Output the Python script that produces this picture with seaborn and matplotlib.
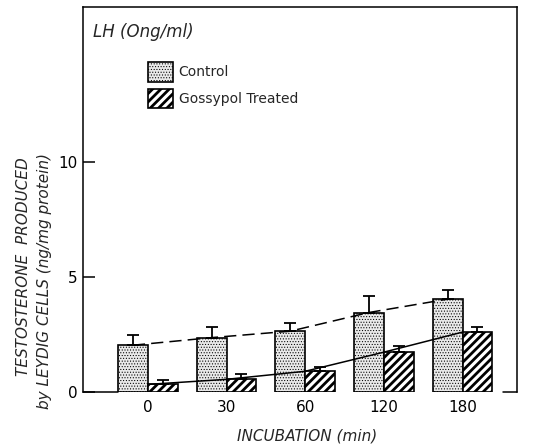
import matplotlib
matplotlib.use("Agg")
import matplotlib.pyplot as plt
import matplotlib.patches as mpatches
import numpy as np
import pandas as pd
import seaborn as sns

# Incubation times and testosterone output (ng/mg protein), mean and upper SE
times = ["0", "30", "60", "120", "180"]
control = [2.03, 2.36, 2.64, 3.45, 4.03]
control_err = [0.44, 0.44, 0.34, 0.70, 0.39]
gossypol = [0.33, 0.55, 0.90, 1.73, 2.60]
gossypol_err = [0.17, 0.22, 0.18, 0.26, 0.21]
groups = ["Control", "Gossypol Treated"]

sns.set_theme(style="white")
plt.rcParams["font.family"] = ["DejaVu Sans"]
plt.rcParams["hatch.linewidth"] = 2.0

CTRL_FACE = "#e9e9e9"
DOTS, STRIPES = "......", "////"
DOT_LW, STRIPE_LW = 0.45, 2.0

df = pd.DataFrame({
    "time": times * 2,
    "value": control + gossypol,
    "group": [groups[0]] * len(times) + [groups[1]] * len(times),
})

fig = plt.figure(figsize=(5.35, 4.47), dpi=100)
ax = fig.add_axes([0.155, 0.123, 0.811, 0.861])

sns.barplot(data=df, x="time", y="value", hue="group", order=times,
            hue_order=groups, palette={groups[0]: CTRL_FACE, groups[1]: "white"},
            width=0.76, gap=0, errorbar=None, edgecolor="black",
            linewidth=1.2, legend=False, ax=ax, zorder=2)


def style_patch(p, hatch, hlw):
    p.set_hatch(hatch)
    p.set_edgecolor("black")
    if hasattr(p, "set_hatch_linewidth"):
        p.set_hatch_linewidth(hlw)


for p in ax.containers[0]:
    style_patch(p, DOTS, DOT_LW)
for p in ax.containers[1]:
    style_patch(p, STRIPES, STRIPE_LW)

ax.set_xlim(-0.825, 4.69)
ax.set_ylim(0, 16.7)

# Upper error bars and trend lines through the bar tops
ctrl_x = [p.get_x() + p.get_width() / 2 for p in ax.containers[0]]
goss_x = [p.get_x() + p.get_width() / 2 for p in ax.containers[1]]
ax.errorbar(ctrl_x, control, yerr=[np.zeros(len(control)), control_err],
            fmt="none", ecolor="black", elinewidth=1.3, capsize=4.5,
            capthick=1.3, zorder=3)
ax.errorbar(goss_x, gossypol, yerr=[np.zeros(len(gossypol)), gossypol_err],
            fmt="none", ecolor="black", elinewidth=1.3, capsize=4.5,
            capthick=1.3, zorder=3)

centers = np.arange(len(times))
ax.plot(ctrl_x, control, color="black", lw=1.1, ls=(0, (8, 4)), zorder=4)
ax.plot(centers, gossypol, color="black", lw=1.1, ls="-", zorder=4)

# Axes frame: broken baseline at the left and right ends only
for s in ["left", "top", "right"]:
    ax.spines[s].set_linewidth(1.1)
    ax.spines[s].set_color("black")
ax.spines["bottom"].set_visible(False)
first_left = ax.containers[0][0].get_x()
last_right = ax.containers[1][-1].get_x() + ax.containers[1][-1].get_width()
xl = ax.get_xlim()
ax.plot([xl[0], first_left], [0, 0], color="black", lw=1.1, clip_on=False)
ax.plot([last_right + 0.14, xl[1]], [0, 0], color="black", lw=1.1, clip_on=False)

ax.set_yticks([0, 5, 10])
ax.set_yticklabels(["0", "5", "10"])
ax.tick_params(axis="y", direction="in", length=8.5, width=1.1, labelsize=11,
               pad=4, left=True, colors="black")
ax.tick_params(axis="x", length=0, labelsize=11, pad=6, colors="black")
ax.set_xlabel("")
ax.set_ylabel("")

ax.text(0.023, 0.935, "LH (Ong/ml)", transform=ax.transAxes, fontsize=12,
        style="italic", ha="left", va="center")

handles = [mpatches.Patch(facecolor=CTRL_FACE, edgecolor="black", hatch=DOTS,
                          linewidth=1.2),
           mpatches.Patch(facecolor="white", edgecolor="black", hatch=STRIPES,
                          linewidth=1.2)]
leg = ax.legend(handles, groups, loc="upper left", bbox_to_anchor=(0.15, 0.857),
                frameon=False, fontsize=10, handlelength=1.8, handleheight=1.8,
                handletextpad=0.4, labelspacing=0.5, borderpad=0,
                borderaxespad=0)
leg_patches = leg.get_patches()
style_patch(leg_patches[0], DOTS, DOT_LW)
style_patch(leg_patches[1], STRIPES, STRIPE_LW)

fig.text(0.043, 0.403, "TESTOSTERONE  PRODUCED", rotation=90, ha="center",
         va="center", fontsize=11, style="italic")
fig.text(0.084, 0.371, "by LEYDIG CELLS (ng/mg protein)", rotation=90,
         ha="center", va="center", fontsize=11, style="italic")
fig.text(0.574, 0.025, "INCUBATION (min)", ha="center", va="center",
         fontsize=11, style="italic")

fig.savefig("out.png", dpi=100)
